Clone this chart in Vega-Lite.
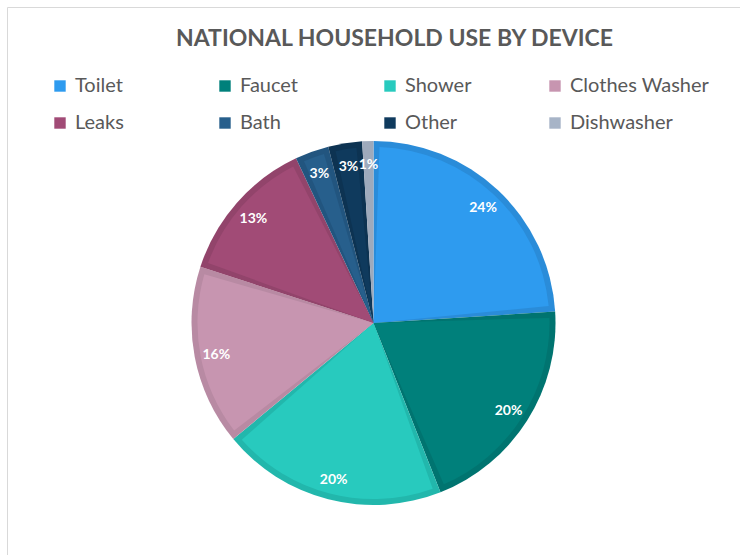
{
  "$schema": "https://vega.github.io/schema/vega-lite/v6.json",
  "autosize": {"type": "none"},
  "width": 733,
  "height": 632,
  "padding": {"left": 7, "top": 7, "right": 0, "bottom": 0},
  "background": "white",
  "view": {"stroke": "#D9D9D9", "strokeWidth": 1, "fill": "white"},
  "title": {
    "text": "NATIONAL HOUSEHOLD USE BY DEVICE",
    "font": "Lato",
    "fontSize": 23,
    "fontWeight": "bold",
    "color": "#595959",
    "anchor": "middle",
    "frame": "group",
    "offset": -44,
    "dx": 21
  },
  "data": {
    "values": [
      {"device": "Toilet", "share": 0.24, "idx": 1},
      {"device": "Faucet", "share": 0.20, "idx": 2},
      {"device": "Shower", "share": 0.20, "idx": 3},
      {"device": "Clothes Washer", "share": 0.16, "idx": 4},
      {"device": "Leaks", "share": 0.13, "idx": 5},
      {"device": "Bath", "share": 0.03, "idx": 6},
      {"device": "Other", "share": 0.03, "idx": 7},
      {"device": "Dishwasher", "share": 0.01, "idx": 8}
    ]
  },
  "encoding": {
    "theta": {"field": "share", "type": "quantitative", "stack": true},
    "order": {"field": "idx", "type": "quantitative"}
  },
  "layer": [
    {
      "mark": {"type": "arc", "radius": 182},
      "encoding": {
        "color": {
          "field": "device",
          "type": "nominal",
          "scale": {
            "domain": ["Toilet", "Faucet", "Shower", "Clothes Washer", "Leaks", "Bath", "Other", "Dishwasher"],
            "range": ["#2A8CD9", "#007470", "#22B7AC", "#B88AA3", "#92446B", "#22557F", "#0D3352", "#9EAABC"]
          },
          "legend": null
        }
      }
    },
    {
      "mark": {"type": "arc", "radius": 176, "padAngle": 0.068},
      "encoding": {
        "color": {
          "field": "device",
          "type": "nominal",
          "scale": {
            "domain": ["Toilet", "Faucet", "Shower", "Clothes Washer", "Leaks", "Bath", "Other", "Dishwasher"],
            "range": ["#2E9BEF", "#00807B", "#28CABE", "#C795B0", "#A14B76", "#275F8C", "#0F3A5D", "#A7B4C7"]
          },
          "legend": {
            "title": null,
            "orient": "none",
            "legendX": 43,
            "legendY": 69,
            "direction": "horizontal",
            "columns": 4,
            "gridAlign": "all",
            "columnPadding": -3,
            "rowPadding": 17,
            "padding": 0,
            "symbolType": "square",
            "symbolSize": 130,
            "symbolStrokeWidth": 0,
            "symbolOffset": 0,
            "labelOffset": 5,
            "labelFont": "Lato",
            "labelFontSize": 20,
            "labelColor": "#595959",
            "labelLimit": 300
          }
        }
      }
    },
    {
      "mark": {"type": "text", "radius": 160, "dy": 2, "fill": "white", "font": "Lato", "fontWeight": "bold", "fontSize": 14, "align": "center", "baseline": "middle"},
      "encoding": {
        "text": {"field": "share", "type": "quantitative", "format": ".0%"}
      }
    }
  ],
  "resolve": {"scale": {"color": "independent"}, "legend": {"color": "independent"}}
}
